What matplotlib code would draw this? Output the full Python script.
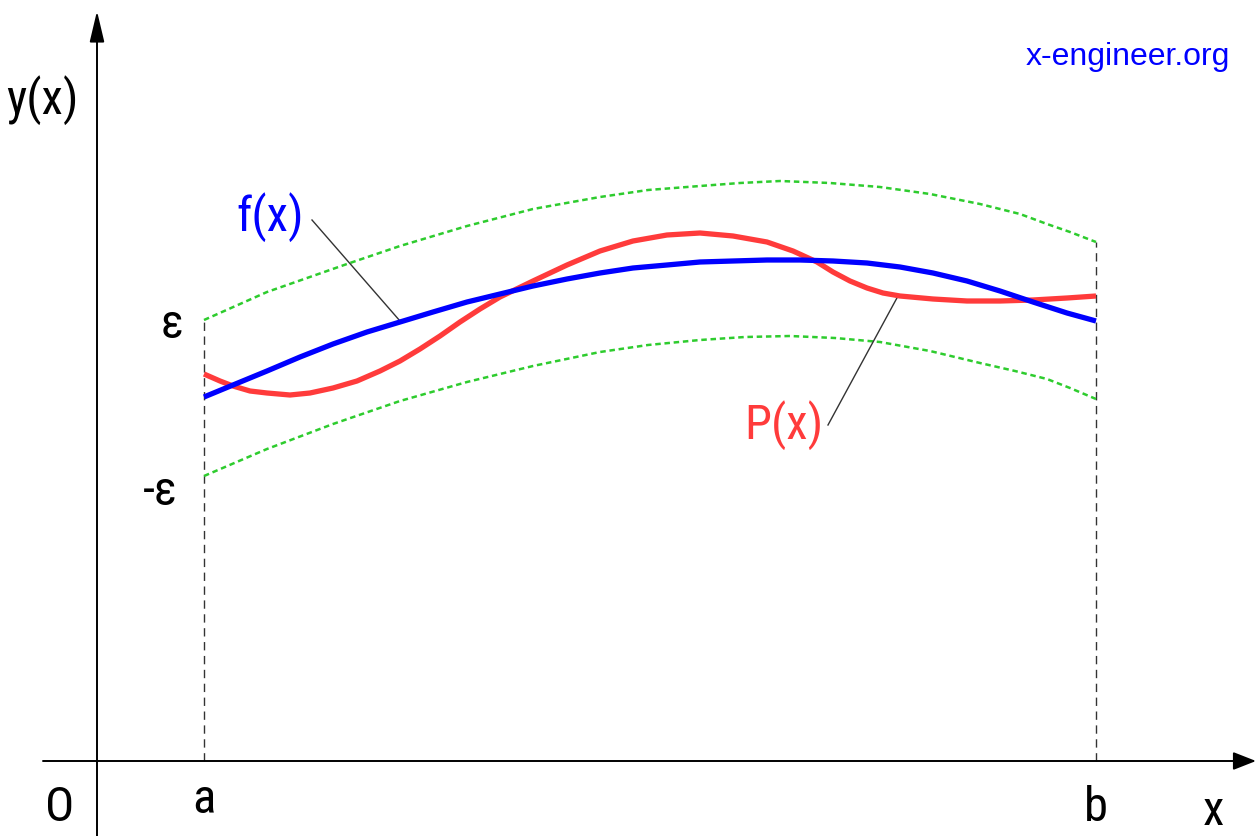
import matplotlib
matplotlib.use("Agg")
import matplotlib.pyplot as plt
from matplotlib import font_manager

# Interval bounds on the horizontal axis
x_a = 204
x_b = 1096

# f(x): the function being approximated
f_x = [204, 233, 267, 300, 333, 367, 400, 433, 467, 500, 533, 567, 600, 633,
       667, 700, 733, 767, 800, 833, 867, 900, 933, 967, 1000, 1033, 1067, 1096]
f_y = [398, 386, 372, 358, 345, 333, 323, 313, 303, 295, 287, 280, 274, 269,
       266, 263, 262, 261, 261, 262, 264, 268, 274, 282, 292, 303, 314, 322]

# P(x): the approximating polynomial
p_x = [204, 220, 233, 250, 267, 290, 310, 333, 357, 380, 400, 420, 440, 460,
       480, 500, 533, 567, 600, 633, 667, 700, 733, 767, 793, 817, 833, 850,
       867, 883, 900, 933, 967, 1000, 1033, 1067, 1096]
p_y = [375, 382, 387, 392, 394, 396, 394, 389, 382, 372, 362, 350, 337, 323,
       310, 298, 282, 266, 252, 242, 236, 234, 237, 243, 252, 263, 273, 282,
       289, 294, 297, 300, 302, 302, 301, 299, 297]

# Tolerance band f(x) + eps and f(x) - eps
up_x = [204, 267, 347, 400, 467, 533, 600, 648, 700, 740, 780, 830, 880,
        930, 980, 1020, 1047, 1070, 1096]
up_y = [321, 293, 265, 247, 227, 210, 198, 191, 187, 184, 182, 184, 188,
        195, 205, 215, 225, 233, 243]
lo_x = [204, 267, 333, 400, 467, 533, 600, 648, 700, 745, 790, 835, 880,
        930, 980, 1015, 1047, 1070, 1096]
lo_y = [477, 450, 425, 402, 383, 367, 353, 346, 341, 338, 337, 339, 343,
        352, 364, 372, 380, 389, 400]

W, H = 1258, 837
fig = plt.figure(figsize=(W / 100, H / 100), dpi=100)
ax = fig.add_axes([0, 0, 1, 1])
ax.set_xlim(0, W)
ax.set_ylim(H, 0)
ax.axis("off")

axis_col = "#333333"

# Prefer a condensed face for the labels when one is installed
installed = {f.name for f in font_manager.fontManager.ttflist}
condensed = [n for n in ("Roboto Condensed", "Liberation Sans Narrow",
                         "Open Sans Condensed", "DejaVu Sans Condensed")
             if n in installed]
if condensed:
    label_family = [condensed[0], "DejaVu Sans"]
    fs = 35
else:
    label_family = ["Liberation Sans", "DejaVu Sans"]
    fs = 30

# Coordinate axes with arrow heads
ax.annotate("", xy=(97, 12), xytext=(97, H),
            arrowprops=dict(arrowstyle="-|>,head_length=1.9,head_width=0.45",
                            color="black", lw=1.4, shrinkA=0, shrinkB=0))
ax.annotate("", xy=(1256, 762), xytext=(43, 762),
            arrowprops=dict(arrowstyle="-|>,head_length=1.4,head_width=0.55",
                            color="black", lw=1.4, shrinkA=0, shrinkB=0))

# Vertical dashed guides at a and b
ax.plot([x_a, x_a], [762, up_y[0]], color=axis_col, lw=1.0,
        linestyle=(0, (6, 4)))
ax.plot([x_b, x_b], [762, up_y[-1]], color=axis_col, lw=1.0,
        linestyle=(0, (6, 4)))

# Tolerance band
band = dict(color="#2ecc2e", lw=1.8, linestyle=(0, (2.2, 1.5)))
ax.plot(up_x, up_y, **band)
ax.plot(lo_x, lo_y, **band)

# Curves
ax.plot(p_x, p_y, color="#ff3b3b", lw=3.8, solid_capstyle="butt",
        solid_joinstyle="round", zorder=3)
ax.plot(f_x, f_y, color="#0000ff", lw=3.8, solid_capstyle="butt",
        solid_joinstyle="round", zorder=4)

# Leader lines to the curve labels
ax.plot([312, 400], [221, 322], color=axis_col, lw=1.0, zorder=2)
ax.plot([898, 828], [297, 426], color=axis_col, lw=1.0, zorder=2)

# Labels
kw = dict(fontsize=fs, family=label_family, ha="center", va="center")
ax.text(42, 100, "y(x)", **kw)
ax.text(270, 217, "f(x)", color="#0000ff", **kw)
ax.text(784, 425, "P(x)", color="#ff3b3b", **kw)
ax.text(172, 325, "ε", **kw)
ax.text(160, 492, "-ε", **kw)
ax.text(60, 808, "O", **kw)
ax.text(x_a, 800, "a", **kw)
ax.text(x_b, 808, "b", **kw)
ax.text(1213, 812, "x", **kw)
ax.text(1128, 57, "x-engineer.org", fontsize=23,
        family=["Liberation Sans", "DejaVu Sans"], color="#0000ff",
        ha="center", va="center")

fig.savefig("out.png", dpi=100, facecolor="white")
